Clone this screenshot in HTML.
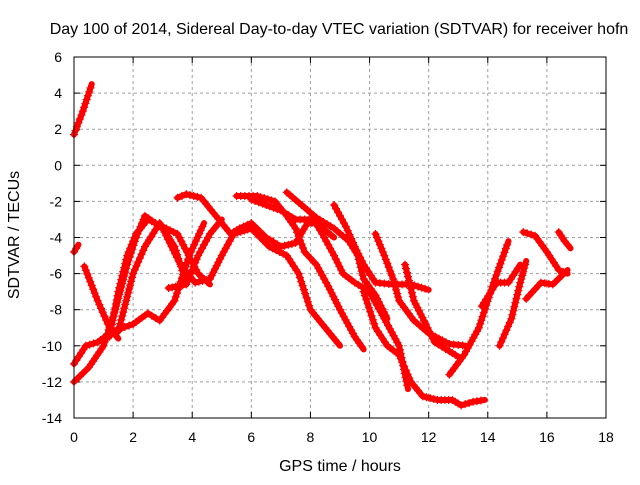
<!DOCTYPE html>
<html><head><meta charset="utf-8"><style>
body{margin:0;background:#fff}
svg text{font-family:"Liberation Sans",sans-serif;font-size:14px;fill:#000}
svg text.big{font-size:16px}
</style></head><body>
<svg id="chart" width="640" height="480" xmlns="http://www.w3.org/2000/svg">
<rect width="640" height="480" fill="#fff"/>
<text class="big" x="339" y="34" text-anchor="middle">Day 100 of 2014, Sidereal Day-to-day VTEC variation (SDTVAR) for receiver hofn</text>
<text class="big" transform="translate(19,235) rotate(-90)" text-anchor="middle">SDTVAR / TECUs</text>
<text class="big" x="340" y="471" text-anchor="middle">GPS time / hours</text>
<g id="grid"></g><g id="ticks"></g><g id="series"></g>
<rect x="74" y="57" width="532" height="361" fill="none" stroke="#000" stroke-width="1"/>
</svg>
<script>
const xTicks=[0,2,4,6,8,10,12,14,16,18];
const yTicks=[-14,-12,-10,-8,-6,-4,-2,0,2,4,6];
const tracks=[
[[0,1.7],[0.3,3],[0.6,4.5]],
[[0,-4.8],[0.15,-4.4]],
[[0.35,-5.6],[0.8,-7.5],[1.2,-9],[1.5,-9.6]],
[[0,-12],[0.5,-11.2],[1,-10],[1.4,-8],[1.8,-5.5],[2.1,-4],[2.4,-2.8],[3,-3.5],[3.6,-5.5],[4.1,-6.5],[4.6,-6.3],[5,-5],[5.4,-3.8],[6,-3.5],[6.6,-4.5],[7.2,-5],[7.6,-6],[8,-8],[8.5,-9],[9,-10]],
[[0,-11],[0.4,-10],[0.8,-9.8],[1.3,-9.2],[2,-8.8],[2.5,-8.2],[2.9,-8.6],[3.4,-7.5],[3.9,-5],[4.4,-3.2]],
[[1.2,-9.5],[1.5,-7],[1.8,-5],[2.1,-3.8],[2.5,-3],[3,-3.4],[3.5,-3.8],[4.2,-6],[4.6,-6.6]],
[[1.5,-9.2],[2,-6],[2.4,-4.5],[2.9,-3.2],[3.4,-4.5],[3.8,-6.5]],
[[3.5,-1.8],[3.8,-1.6],[4.3,-1.8],[4.8,-2.8],[5.3,-3.8],[5.6,-3.5],[6,-3.2],[6.5,-4],[7,-4.5],[7.5,-4.3],[7.9,-3.2],[8.2,-3.2],[8.8,-4]],
[[3.2,-6.8],[3.8,-6.6],[4.2,-5],[4.6,-3.8],[5,-3]],
[[5.5,-1.7],[6.2,-1.7],[6.8,-2],[7.2,-2.8],[7.5,-3.5],[7.8,-4.8],[8.2,-5.5],[8.6,-6.7],[9,-8],[9.5,-9.5],[9.8,-10.2]],
[[6,-1.9],[6.5,-2.2],[7,-2.5],[7.5,-3],[8.1,-3],[8.4,-3.8],[8.8,-5],[9.1,-6],[9.5,-6.5],[10,-7],[10.5,-8.5],[11,-10],[11.3,-12.4]],
[[7.2,-1.5],[7.7,-2.2],[8.2,-2.9],[8.8,-3.5],[9.3,-4.2],[9.6,-5],[9.8,-6.3],[10.2,-7.2],[10.6,-8.5]],
[[8.8,-2.2],[9.2,-3.4],[9.5,-4.5],[9.8,-5.5],[10.2,-6.5],[10.8,-6.6],[11.4,-6.6],[12,-6.9]],
[[10.2,-3.8],[10.5,-5],[10.8,-6.3],[11,-7.5],[11.5,-8.6],[12,-9.3],[12.7,-9.9],[13.3,-10]],
[[11.2,-5.5],[11.5,-7.5],[11.9,-8.8],[12.2,-9.8],[12.7,-10.3],[13,-10.6]],
[[9.8,-7],[10.2,-9],[10.6,-10],[11,-10.5],[11.4,-12],[11.8,-12.8],[12.3,-13],[12.8,-13],[13.1,-13.3],[13.5,-13.1],[13.9,-13]],
[[12.7,-11.6],[13.2,-10.5],[13.7,-9],[14.2,-6.5],[14.7,-4.2]],
[[14.4,-10],[14.8,-8.5],[15.1,-6.5],[15.3,-5.3]],
[[13.8,-7.8],[14.3,-6.5],[14.7,-6.5],[15.1,-5.5]],
[[15.2,-3.7],[15.6,-3.9],[16,-4.8],[16.4,-5.8],[16.7,-6]],
[[15.3,-7.4],[15.8,-6.5],[16.2,-6.6],[16.7,-5.8]],
[[16.4,-3.7],[16.6,-4.2],[16.8,-4.6]]
];
const X0=74,X1=606,Y0=418,Y1=57;
const sx=h=>X0+(h-0)/(18-0)*(X1-X0);
const sy=v=>Y0-(v+14)/(20)*(Y0-Y1);
const NS="http://www.w3.org/2000/svg";
function mk(tag,parent,attrs){const e=document.createElementNS(NS,tag);for(const k in attrs)e.setAttribute(k,attrs[k]);parent.appendChild(e);return e;}
const grid=document.getElementById('grid'),ticks=document.getElementById('ticks'),ser=document.getElementById('series');
xTicks.forEach(t=>{const x=sx(t);
 if(t>0&&t<18){const g=mk('line',grid,{x1:x,x2:x,y1:Y1,y2:Y0,stroke:'#a0a0a0','stroke-dasharray':'3,3'});
 
 }
 mk('line',ticks,{x1:x,x2:x,y1:Y0,y2:Y0-6,stroke:'#000'});mk('line',ticks,{x1:x,x2:x,y1:Y1,y2:Y1+6,stroke:'#000'});
 const l=mk('text',ticks,{x:x,y:442,'text-anchor':'middle'});l.textContent=t;
 
 });
yTicks.forEach(t=>{const y=sy(t);
 if(t>-14&&t<6){const g=mk('line',grid,{x1:X0,x2:X1,y1:y,y2:y,stroke:'#a0a0a0','stroke-dasharray':'3,3'});
 
 }
 mk('line',ticks,{x1:X0,x2:X0+6,y1:y,y2:y,stroke:'#000'});mk('line',ticks,{x1:X1,x2:X1-6,y1:y,y2:y,stroke:'#000'});
 const l=mk('text',ticks,{x:62,y:y+5,'text-anchor':'end'});l.textContent=t;
 
 });
tracks.forEach((tr,i)=>{
 const g=mk('g',ser,{});
 
 
 mk('polyline',g,{points:tr.map(p=>sx(p[0])+','+sy(p[1])).join(' '),fill:'none',stroke:'#f00','stroke-width':6,'stroke-linejoin':'round','stroke-linecap':'round'});
 let d='';
 for(let k=0;k<tr.length-1;k++){const xa=sx(tr[k][0]),ya=sy(tr[k][1]),xb=sx(tr[k+1][0]),yb=sy(tr[k+1][1]);
  const n=Math.max(1,Math.round(Math.hypot(xb-xa,yb-ya)/4));
  for(let j=0;j<n;j++){const x=xa+(xb-xa)*j/n,y=ya+(yb-ya)*j/n;d+=`M${x-4},${y}h8M${x},${y-4}v8`;}}
 mk('path',g,{d:d,stroke:'#f00','stroke-width':1.2,fill:'none'});
});
</script>
</body></html>
